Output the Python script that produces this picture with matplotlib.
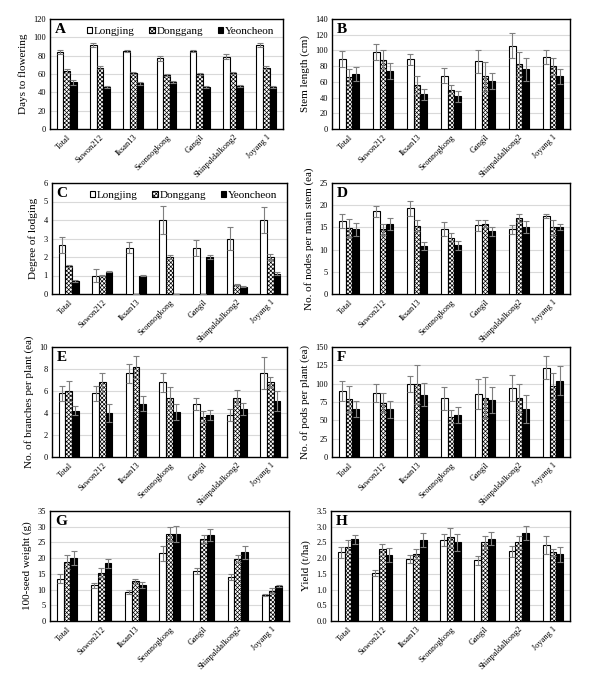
import numpy as np
import matplotlib
matplotlib.use("Agg")
import matplotlib.pyplot as plt

plt.rcParams['font.family'] = ['Liberation Serif', 'DejaVu Serif']
plt.rcParams['hatch.linewidth'] = 0.5

W, H = 596, 678

cultivars = ["Total", "Suwon212", "Iksan13", "Seonnogkong", "Gangil",
             "Shinpaldalkong2", "Joyang 1"]
sites = ["Longjing", "Donggang", "Yeoncheon"]

# A: days to flowering
days_L = [84, 92, 85, 77, 85, 79, 92]
days_D = [63, 67, 61, 59, 60, 61, 67]
days_Y = [51, 46, 50, 51, 46, 47, 46]
days_eL = [2, 2, 1, 3, 1, 2.5, 2]
days_eD = [2, 1.5, 1, 1, 1.5, 1, 2]
days_eY = [2.5, 1, 1.5, 1, 1, 1, 1]

# B: stem length
stem_L = [89, 98, 89, 68, 86, 106, 92]
stem_D = [66, 88, 56, 50, 67, 83, 80]
stem_Y = [70, 74, 44, 42, 61, 76, 67]
stem_eL = [10, 10, 7, 10, 15, 16, 9]
stem_eD = [11, 12, 11, 6, 18, 15, 11]
stem_eY = [9, 10, 7, 7, 10, 15, 10]

# C: degree of lodging
lodg_L = [2.65, 1.0, 2.5, 4.0, 2.5, 3.0, 4.0]
lodg_D = [1.5, 1.0, 0, 2.0, 0, 0.5, 2.0]
lodg_Y = [0.7, 1.2, 1.0, 0, 2.0, 0.4, 1.1]
lodg_eL = [0.45, 0.35, 0.3, 0.75, 0.42, 0.6, 0.7]
lodg_eD = [0.05, 0.03, 0, 0.1, 0, 0.03, 0.15]
lodg_eY = [0.05, 0.03, 0.02, 0, 0.1, 0.03, 0.08]

# D: nodes per main stem
node_L = [16.4, 18.6, 19.3, 14.7, 15.5, 14.6, 17.6]
node_D = [14.8, 14.6, 15.4, 12.7, 15.8, 17.1, 15.0]
node_Y = [14.6, 15.8, 10.8, 11.0, 14.1, 15.1, 15.1]
node_eL = [1.6, 1.3, 1.7, 1.6, 1.2, 1.0, 0.5]
node_eD = [2.0, 1.2, 1.2, 1.1, 0.8, 0.9, 1.7]
node_eY = [1.5, 1.4, 0.8, 1.0, 1.1, 1.4, 0.6]

# E: branches per plant
bran_L = [5.8, 5.8, 7.6, 6.8, 4.8, 3.8, 7.6]
bran_D = [6.0, 6.8, 8.2, 5.4, 3.65, 5.4, 6.8]
bran_Y = [4.2, 4.0, 4.85, 4.1, 3.8, 4.35, 5.1]
bran_eL = [0.7, 0.7, 0.9, 0.85, 0.55, 0.55, 1.45]
bran_eD = [0.9, 0.85, 1.0, 1.0, 0.5, 0.65, 0.45]
bran_eY = [0.4, 0.8, 0.7, 0.7, 0.45, 0.55, 0.9]

# F: pods per plant
pods_L = [90, 87, 100, 80, 86, 94, 122]
pods_D = [79, 74, 99, 55, 81, 81, 97]
pods_Y = [66, 65, 85, 57, 78, 66, 104]
pods_eL = [13, 12, 11, 16, 21, 18, 16]
pods_eD = [18, 13, 27, 9, 28, 19, 18]
pods_eY = [11, 12, 16, 11, 18, 19, 20]

# G: 100-seed weight
seed_L = [13.5, 11.4, 9.2, 21.6, 15.8, 14.0, 8.3]
seed_D = [18.7, 15.4, 12.6, 27.6, 26.1, 19.8, 9.6]
seed_Y = [20.0, 18.3, 11.5, 27.6, 27.4, 21.8, 11.2]
seed_eL = [1.3, 0.8, 0.7, 2.4, 1.0, 0.9, 0.2]
seed_eD = [2.3, 1.4, 0.7, 2.2, 1.2, 1.1, 0.8]
seed_eY = [2.2, 1.5, 0.9, 2.6, 2.0, 2.0, 0.4]

# H: yield
yld_L = [2.18, 1.53, 1.97, 2.58, 1.93, 2.22, 2.42]
yld_D = [2.37, 2.28, 2.12, 2.66, 2.50, 2.50, 2.18]
yld_Y = [2.60, 2.10, 2.58, 2.50, 2.62, 2.80, 2.12]
yld_eL = [0.17, 0.10, 0.13, 0.20, 0.15, 0.18, 0.28]
yld_eD = [0.20, 0.17, 0.16, 0.29, 0.22, 0.20, 0.10]
yld_eY = [0.15, 0.23, 0.22, 0.27, 0.20, 0.22, 0.23]

panels = [
    # letter, box px (left, top, right, bottom), ylabel, ymax, step, fmt, data, errors, legend
    ("A", (50, 19, 283, 129), "Days to flowering", 120, 20, "{:.0f}",
     (days_L, days_D, days_Y), (days_eL, days_eD, days_eY), True),
    ("B", (332, 19, 570, 129), "Stem length (cm)", 140, 20, "{:.0f}",
     (stem_L, stem_D, stem_Y), (stem_eL, stem_eD, stem_eY), False),
    ("C", (52, 183, 287, 294), "Degree of lodging", 6, 1, "{:.0f}",
     (lodg_L, lodg_D, lodg_Y), (lodg_eL, lodg_eD, lodg_eY), True),
    ("D", (332, 183, 570, 294), "No. of nodes per main stem (ea)", 25, 5, "{:.0f}",
     (node_L, node_D, node_Y), (node_eL, node_eD, node_eY), False),
    ("E", (52, 347, 287, 457), "No. of branches per plant (ea)", 10, 2, "{:.0f}",
     (bran_L, bran_D, bran_Y), (bran_eL, bran_eD, bran_eY), False),
    ("F", (332, 347, 570, 457), "No. of pods per plant (ea)", 150, 25, "{:.0f}",
     (pods_L, pods_D, pods_Y), (pods_eL, pods_eD, pods_eY), False),
    ("G", (50, 511, 289, 621), "100-seed weight (g)", 35, 5, "{:.0f}",
     (seed_L, seed_D, seed_Y), (seed_eL, seed_eD, seed_eY), False),
    ("H", (331, 511, 570, 621), "Yield (t/ha)", 3.5, 0.5, "{:.1f}",
     (yld_L, yld_D, yld_Y), (yld_eL, yld_eD, yld_eY), False),
]

styles = [
    dict(facecolor="white", edgecolor="black", hatch=None),
    dict(facecolor="white", edgecolor="black", hatch="xxxxxxxx"),
    dict(facecolor="black", edgecolor="black", hatch=None),
]

fig = plt.figure(figsize=(W / 100, H / 100), dpi=100)
x = np.arange(len(cultivars))
bw = 0.2

for letter, (l, t, r, b), ylabel, ymax, step, fmt, data, errs, show_leg in panels:
    ax = fig.add_axes([l / W, 1 - b / H, (r - l) / W, (b - t) / H])
    for i, (vals, err) in enumerate(zip(data, errs)):
        st = styles[i]
        ax.bar(x + (i - 1) * bw, vals, bw, yerr=err, label=sites[i],
               facecolor=st["facecolor"], edgecolor=st["edgecolor"],
               hatch=st["hatch"], linewidth=0.8, zorder=3,
               error_kw=dict(ecolor="#7f7f7f", elinewidth=0.8, capsize=2,
                             capthick=0.8, zorder=4))
    ticks = np.arange(0, ymax + step / 2, step)
    ax.set_yticks(ticks)
    ax.set_yticklabels([fmt.format(v) for v in ticks], fontsize=6)
    ax.set_ylim(0, ymax)
    ax.set_xlim(-0.5, len(cultivars) - 0.5)
    ax.set_xticks(x)
    ax.set_xticklabels(cultivars, rotation=45, ha="right",
                       rotation_mode="anchor", fontsize=6)
    ax.tick_params(length=0, pad=3)
    ax.yaxis.grid(True, color="#d9d9d9", linewidth=0.8, zorder=0)
    ax.set_axisbelow(True)
    for sp in ax.spines.values():
        sp.set_linewidth(1.0)
        sp.set_color("black")
    ax.set_ylabel(ylabel, fontsize=8)
    ax.text(0.02, 0.96, letter, transform=ax.transAxes, fontsize=11,
            fontweight="bold", va="top", ha="left", zorder=6)
    if show_leg:
        ax.legend(loc="upper center", bbox_to_anchor=(0.56, 1.02), ncol=3,
                  frameon=False, fontsize=8, handlelength=0.5,
                  handleheight=0.5, handletextpad=0.15, columnspacing=1.3)

fig.savefig("out.png", dpi=100)
